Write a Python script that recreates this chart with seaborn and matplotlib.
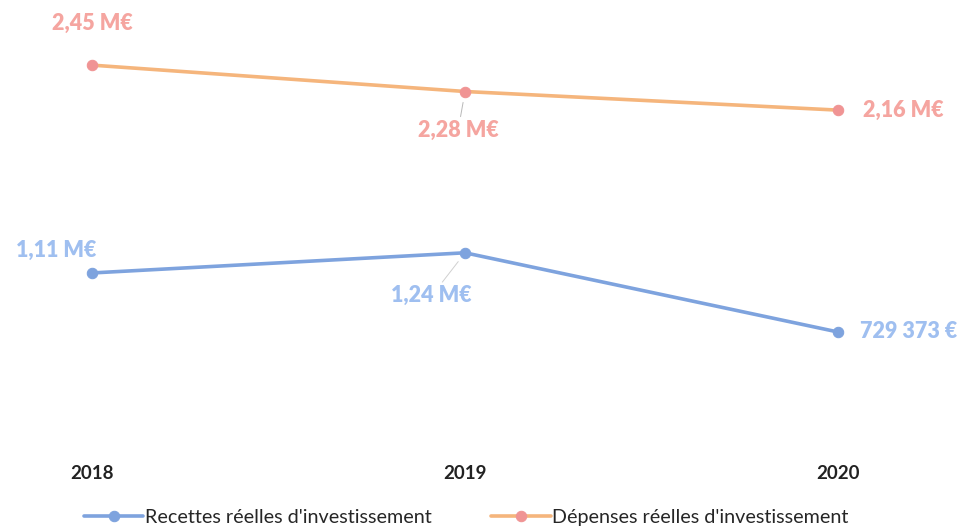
import matplotlib
matplotlib.use("Agg")
import matplotlib.pyplot as plt
import seaborn as sns
import pandas as pd

years = ["2018", "2019", "2020"]
recettes = [1.11, 1.24, 0.729373]
depenses = [2.45, 2.28, 2.16]
recettes_labels = ["1,11 M€", "1,24 M€", "729 373 €"]
depenses_labels = ["2,45 M€", "2,28 M€", "2,16 M€"]
series_names = ["Recettes réelles d'investissement", "Dépenses réelles d'investissement"]

sns.set_theme(style="white")
plt.rcParams['font.family'] = ['Lato', 'DejaVu Sans']

df_r = pd.DataFrame({"x": range(3), "v": recettes})
df_d = pd.DataFrame({"x": range(3), "v": depenses})

fig = plt.figure(figsize=(9.64, 5.28), dpi=100)
ax = fig.add_axes([0, 0.157, 1, 0.843])

blue_line = "#7ea3de"
blue_txt = "#9fbff0"
orange_line = "#f5b57c"
pink_mk = "#f09494"
pink_txt = "#f5a5a0"

sns.lineplot(data=df_r, x="x", y="v", ax=ax, color=blue_line, lw=2.6,
             marker="o", markersize=7.5, markerfacecolor=blue_line,
             markeredgecolor=blue_line, label=series_names[0])
sns.lineplot(data=df_d, x="x", y="v", ax=ax, color=orange_line, lw=2.6,
             marker="o", markersize=7.5, markerfacecolor=pink_mk,
             markeredgecolor=pink_mk, label=series_names[1])

ax.set_xlim(-0.247, 2.338)
ax.set_ylim(0, 2.87)
ax.set_xticks(range(3))
ax.set_xticklabels(years, fontsize=13.5, fontweight="bold", color="#222222")
ax.tick_params(axis="x", length=0, pad=14)
ax.set_yticks([])
ax.set_xlabel("")
ax.set_ylabel("")
for s in ax.spines.values():
    s.set_visible(False)

fs = 15.5
fw = "heavy"
# Dépenses labels
ax.annotate(depenses_labels[0], (0, depenses[0]), xytext=(0, 30), textcoords="offset points",
            ha="center", va="center", color=pink_txt, fontsize=fs, fontweight=fw)
ax.annotate(depenses_labels[1], (1, depenses[1]), xytext=(-5, -28), textcoords="offset points",
            ha="center", va="center", color=pink_txt, fontsize=fs, fontweight=fw,
            arrowprops=dict(arrowstyle="-", color="#b8b8b8", lw=0.7, shrinkA=0, shrinkB=8))
ax.annotate(depenses_labels[2], (2, depenses[2]), xytext=(18, 0), textcoords="offset points",
            ha="left", va="center", color=pink_txt, fontsize=fs, fontweight=fw)
# Recettes labels
ax.annotate(recettes_labels[0], (0, recettes[0]), xytext=(-26, 16), textcoords="offset points",
            ha="center", va="center", color=blue_txt, fontsize=fs, fontweight=fw)
ax.annotate(recettes_labels[1], (1, recettes[1]), xytext=(-24, -31), textcoords="offset points",
            ha="center", va="center", color=blue_txt, fontsize=fs, fontweight=fw,
            arrowprops=dict(arrowstyle="-", color="#d0d0d0", lw=0.7, shrinkA=0, shrinkB=8))
ax.annotate(recettes_labels[2], (2, recettes[2]), xytext=(16, 0), textcoords="offset points",
            ha="left", va="center", color=blue_txt, fontsize=fs, fontweight=fw)

handles, labels = ax.get_legend_handles_labels()
ax.get_legend().remove()
fig.legend(handles, labels, loc="lower center", bbox_to_anchor=(0.484, -0.03), ncol=2,
           frameon=False, fontsize=14.2, handlelength=3.0, columnspacing=3.0,
           handletextpad=0.1)

fig.savefig("out.png", dpi=100)
